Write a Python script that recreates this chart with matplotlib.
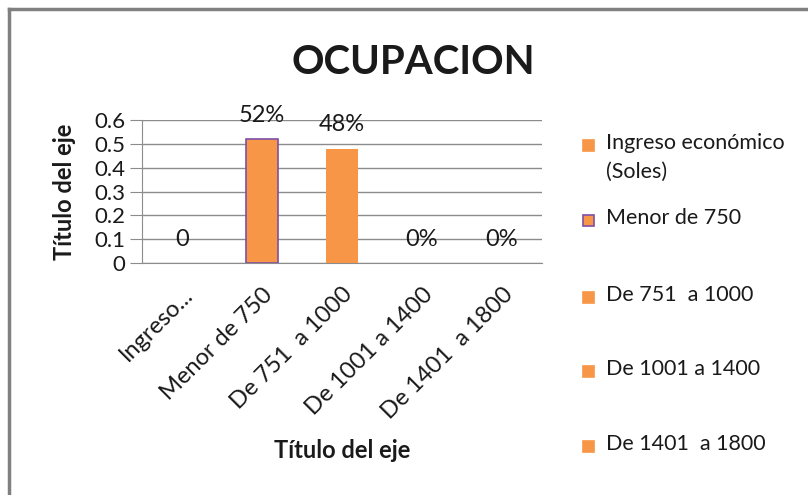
import matplotlib
matplotlib.use("Agg")
import matplotlib.pyplot as plt
from matplotlib.patches import Rectangle
from matplotlib.lines import Line2D

plt.rcParams['font.family'] = ['Lato', 'DejaVu Sans']

tick_labels = ["Ingreso...", "Menor de 750", "De 751  a 1000", "De 1001 a 1400", "De 1401  a 1800"]
legend_labels = ["Ingreso económico\n(Soles)", "Menor de 750", "De 751  a 1000", "De 1001 a 1400", "De 1401  a 1800"]
values = [0, 0.52, 0.48, 0, 0]
value_labels = ["0", "52%", "48%", "0%", "0%"]

ORANGE = "#F79646"
PURPLE = "#7E4FA8"
GRID = "#8C8C8C"
TEXT = "#1a1a1a"

W, H = 808, 495
fig = plt.figure(figsize=(W / 100, H / 100), dpi=100)
fig.patch.set_facecolor("white")

# outer frame (top and left visible)
fig.add_artist(Line2D([9 / W, 1], [1 - 9 / H, 1 - 9 / H], color="#808080", lw=2.5))
fig.add_artist(Line2D([9 / W, 9 / W], [0, 1 - 9 / H], color="#808080", lw=2.5))

ax = fig.add_axes([142 / W, 1 - 263 / H, 400 / W, 143 / H])
x = list(range(len(values)))
edges = ["none", PURPLE, "none", "none", "none"]
legend_edges = [ORANGE, PURPLE, ORANGE, ORANGE, ORANGE]
ax.bar(x, values, width=0.4, color=ORANGE, edgecolor=edges, linewidth=1.2, zorder=3)
ax.set_xlim(-0.5, len(values) - 0.5)
ax.set_ylim(0, 0.6)
ax.set_yticks([0, 0.1, 0.2, 0.3, 0.4, 0.5, 0.6])
ax.set_yticklabels(["0", "0.1", "0.2", "0.3", "0.4", "0.5", "0.6"], fontsize=16, color=TEXT)
ax.yaxis.grid(True, color=GRID, lw=1, zorder=0)
ax.set_xticks(x)
ax.set_xticklabels(tick_labels, rotation=45, ha="right", rotation_mode="anchor",
                   fontsize=17, color=TEXT)
ax.tick_params(axis="x", length=0, pad=15)
ax.tick_params(axis="y", length=9, color=GRID, pad=3)
for s in ["top", "right"]:
    ax.spines[s].set_visible(False)
ax.spines["left"].set_color(GRID)
ax.spines["bottom"].set_color(GRID)

for xi, v, lab in zip(x, values, value_labels):
    ax.annotate(lab, (xi, v), xytext=(0, 17), textcoords="offset points",
                ha="center", va="center", fontsize=17, color=TEXT)

ax.set_xlabel("Título del eje", fontsize=17, fontweight="bold", color=TEXT)
ax.set_ylabel("Título del eje", fontsize=17, fontweight="bold", color=TEXT)
ax.xaxis.set_label_coords(0.5, (450 - 263) / -143.0, transform=ax.transAxes)
ax.xaxis.label.set_va("center")
ax.yaxis.set_label_coords((65 - 142) / 400.0, 0.5, transform=ax.transAxes)
ax.yaxis.label.set_va("center")

fig.text(413 / W, 1 - 62 / H, "OCUPACION", ha="center", va="center",
         fontsize=29, fontweight="bold", color=TEXT)

# legend
ys = [145, 220, 297, 371, 446]
for lab, y, ec in zip(legend_labels, ys, legend_edges):
    fig.add_artist(Rectangle((583 / W, 1 - (y + 6) / H), 11 / W, 11 / H,
                             facecolor=ORANGE, edgecolor=ec, lw=1.2,
                             transform=fig.transFigure))
    fig.text(606 / W, 1 - (y - 12) / H, lab, ha="left", va="top", fontsize=15.5,
             linespacing=1.55, color=TEXT)

fig.savefig("out.png", dpi=100)
